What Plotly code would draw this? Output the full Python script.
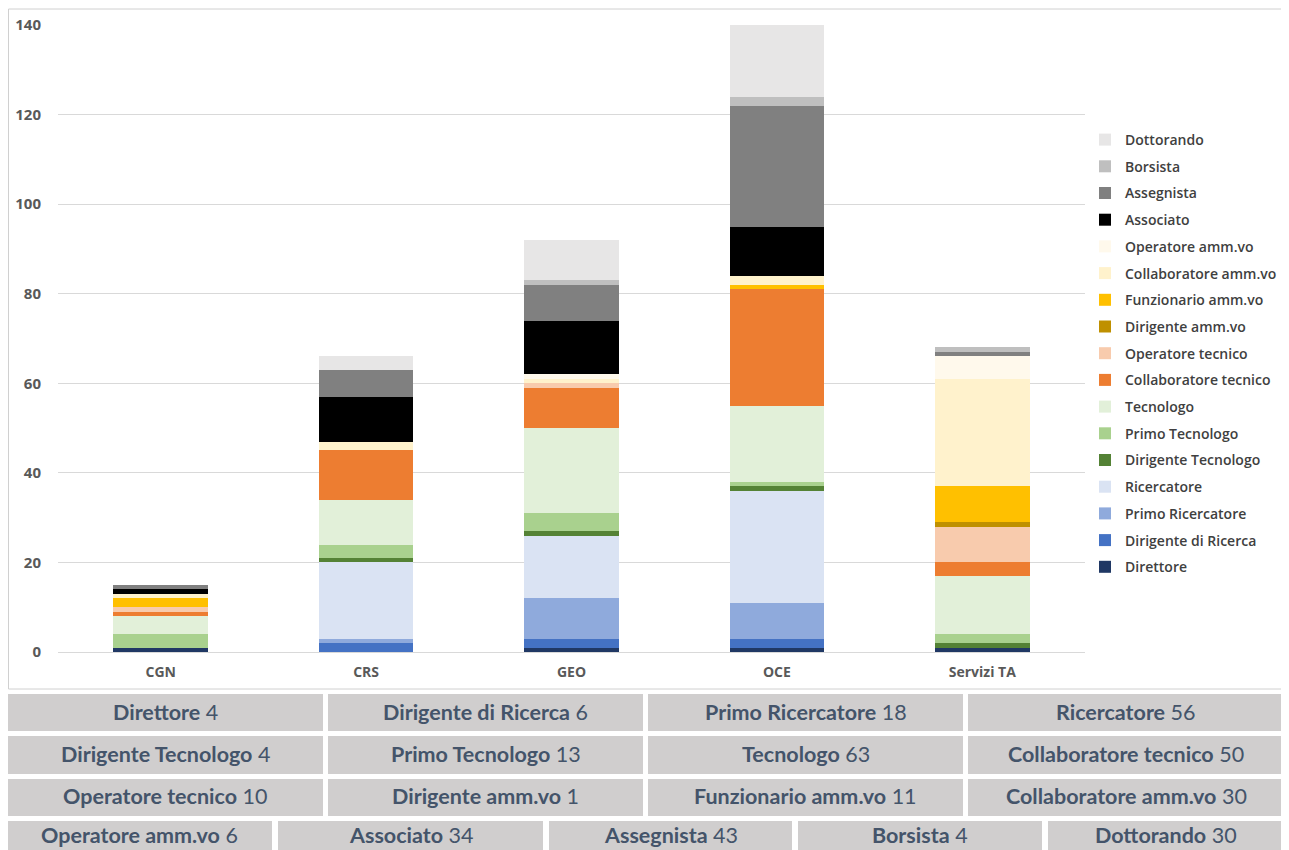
import plotly.graph_objects as go

categories = ["CGN", "CRS", "GEO", "OCE", "Servizi TA"]

series_names = [
    "Direttore", "Dirigente di Ricerca", "Primo Ricercatore", "Ricercatore",
    "Dirigente Tecnologo", "Primo Tecnologo", "Tecnologo",
    "Collaboratore tecnico", "Operatore tecnico", "Dirigente amm.vo",
    "Funzionario amm.vo", "Collaboratore amm.vo", "Operatore amm.vo",
    "Associato", "Assegnista", "Borsista", "Dottorando",
]

direttore = [1, 0, 1, 1, 1]
dirigente_ricerca = [0, 2, 2, 2, 0]
primo_ricercatore = [0, 1, 9, 8, 0]
ricercatore = [0, 17, 14, 25, 0]
dirigente_tecnologo = [0, 1, 1, 1, 1]
primo_tecnologo = [3, 3, 4, 1, 2]
tecnologo = [4, 10, 19, 17, 13]
collaboratore_tecnico = [1, 11, 9, 26, 3]
operatore_tecnico = [1, 0, 1, 0, 8]
dirigente_ammvo = [0, 0, 0, 0, 1]
funzionario_ammvo = [2, 0, 0, 1, 8]
collaboratore_ammvo = [1, 2, 1, 2, 24]
operatore_ammvo = [0, 0, 1, 0, 5]
associato = [1, 10, 12, 11, 0]
assegnista = [1, 6, 8, 27, 1]
borsista = [0, 0, 1, 2, 1]
dottorando = [0, 3, 9, 16, 0]

series_values = [
    direttore, dirigente_ricerca, primo_ricercatore, ricercatore,
    dirigente_tecnologo, primo_tecnologo, tecnologo,
    collaboratore_tecnico, operatore_tecnico, dirigente_ammvo,
    funzionario_ammvo, collaboratore_ammvo, operatore_ammvo,
    associato, assegnista, borsista, dottorando,
]

series_colors = [
    "#203864", "#4472c4", "#8faadc", "#dae3f3",
    "#548235", "#a9d18e", "#e2f0d9",
    "#ed7d31", "#f8cbad", "#bf9000",
    "#ffc000", "#fff2cc", "#fff9ec",
    "#000000", "#808080", "#bfbfbf", "#e7e6e6",
]

y_ticks = [0, 20, 40, 60, 80, 100, 120, 140]

# summary table (label, total) rows
table_rows = [
    [("Direttore", 4), ("Dirigente di Ricerca", 6), ("Primo Ricercatore", 18), ("Ricercatore", 56)],
    [("Dirigente Tecnologo", 4), ("Primo Tecnologo", 13), ("Tecnologo", 63), ("Collaboratore tecnico", 50)],
    [("Operatore tecnico", 10), ("Dirigente amm.vo", 1), ("Funzionario amm.vo", 11), ("Collaboratore amm.vo", 30)],
    [("Operatore amm.vo", 6), ("Associato", 34), ("Assegnista", 43), ("Borsista", 4), ("Dottorando", 30)],
]

OFF = 8  # page body margin
W, H = 1289 - OFF, 850 - OFF
ML, MR, MT, MB = 58 - OFF, 204, 25 - OFF, 198


def px2paper_x(px):
    return (px - OFF - ML) / (W - ML - MR)


def px2paper_y(py):
    return (H - MB - (py - OFF)) / (H - MT - MB)


fig = go.Figure()
for i, (name, vals, col) in enumerate(zip(series_names, series_values, series_colors)):
    fig.add_trace(go.Bar(
        x=categories, y=vals, name=name,
        marker=dict(color=col, line=dict(width=0)),
        legendgroup=name, legendrank=1000 - i,
    ))

shapes = []
annotations = []

# outer frame of the chart area
shapes.append(dict(type="rect", xref="paper", yref="paper",
                   x0=px2paper_x(8.5), x1=px2paper_x(1300),
                   y0=px2paper_y(689), y1=px2paper_y(9),
                   line=dict(color="#d0d0d0", width=1), fillcolor="rgba(0,0,0,0)",
                   layer="below"))

# table cells
row_bounds = [(694, 731), (736, 774), (779, 816), (821, 860)]
row_text_y = [712, 754, 796, 835]
col_bounds4 = [(7, 323), (328, 643), (648, 963), (968, 1284)]
col_bounds5 = [(7, 272), (278, 543), (549, 792), (798, 1042), (1048, 1284)]
for ri, row in enumerate(table_rows):
    y0, y1 = row_bounds[ri]
    cols = col_bounds4 if len(row) == 4 else col_bounds5
    for (label, val), (x0, x1) in zip(row, cols):
        shapes.append(dict(type="rect", xref="paper", yref="paper",
                           x0=px2paper_x(x0), x1=px2paper_x(x1),
                           y0=px2paper_y(y1), y1=px2paper_y(y0),
                           line=dict(width=0), fillcolor="#d0cece", layer="above"))
        annotations.append(dict(
            xref="paper", yref="paper",
            x=px2paper_x((x0 + x1) / 2), y=px2paper_y(row_text_y[ri]),
            text=f"<b>{label}</b> {val}", showarrow=False,
            xanchor="center", yanchor="middle",
            font=dict(family="Lato, Open Sans, sans-serif", size=21.5, color="#44546a"),
        ))

fig.update_layout(
    width=W, height=H,
    margin=dict(l=ML, r=MR, t=MT, b=MB, autoexpand=False),
    paper_bgcolor="white", plot_bgcolor="white",
    barmode="stack", bargap=0.54,
    font=dict(family="Open Sans, sans-serif", color="#595959"),
    xaxis=dict(
        showgrid=False, showline=False, zeroline=False,
        tickfont=dict(size=14, color="#595959", family="Open Sans, sans-serif", weight="bold"),
        ticks="", ticklabelstandoff=10,
    ),
    yaxis=dict(
        range=[0, 140], tickvals=y_ticks,
        showgrid=True, gridcolor="#d9d9d9", gridwidth=1,
        zeroline=True, zerolinecolor="#d9d9d9", zerolinewidth=1,
        showline=False, ticks="",
        tickfont=dict(size=15, color="#595959", family="Open Sans, sans-serif", weight="bold"),
        ticklabelstandoff=16,
    ),
    legend=dict(
        x=px2paper_x(1085), y=px2paper_y(124), xanchor="left", yanchor="top",
        traceorder="grouped", tracegroupgap=5.5,
        font=dict(size=14, color="#404040", family="Open Sans, sans-serif", weight=600),
        bgcolor="rgba(0,0,0,0)", itemwidth=30,
    ),
    shapes=shapes,
    annotations=annotations,
)

fig.write_html("out.html")
